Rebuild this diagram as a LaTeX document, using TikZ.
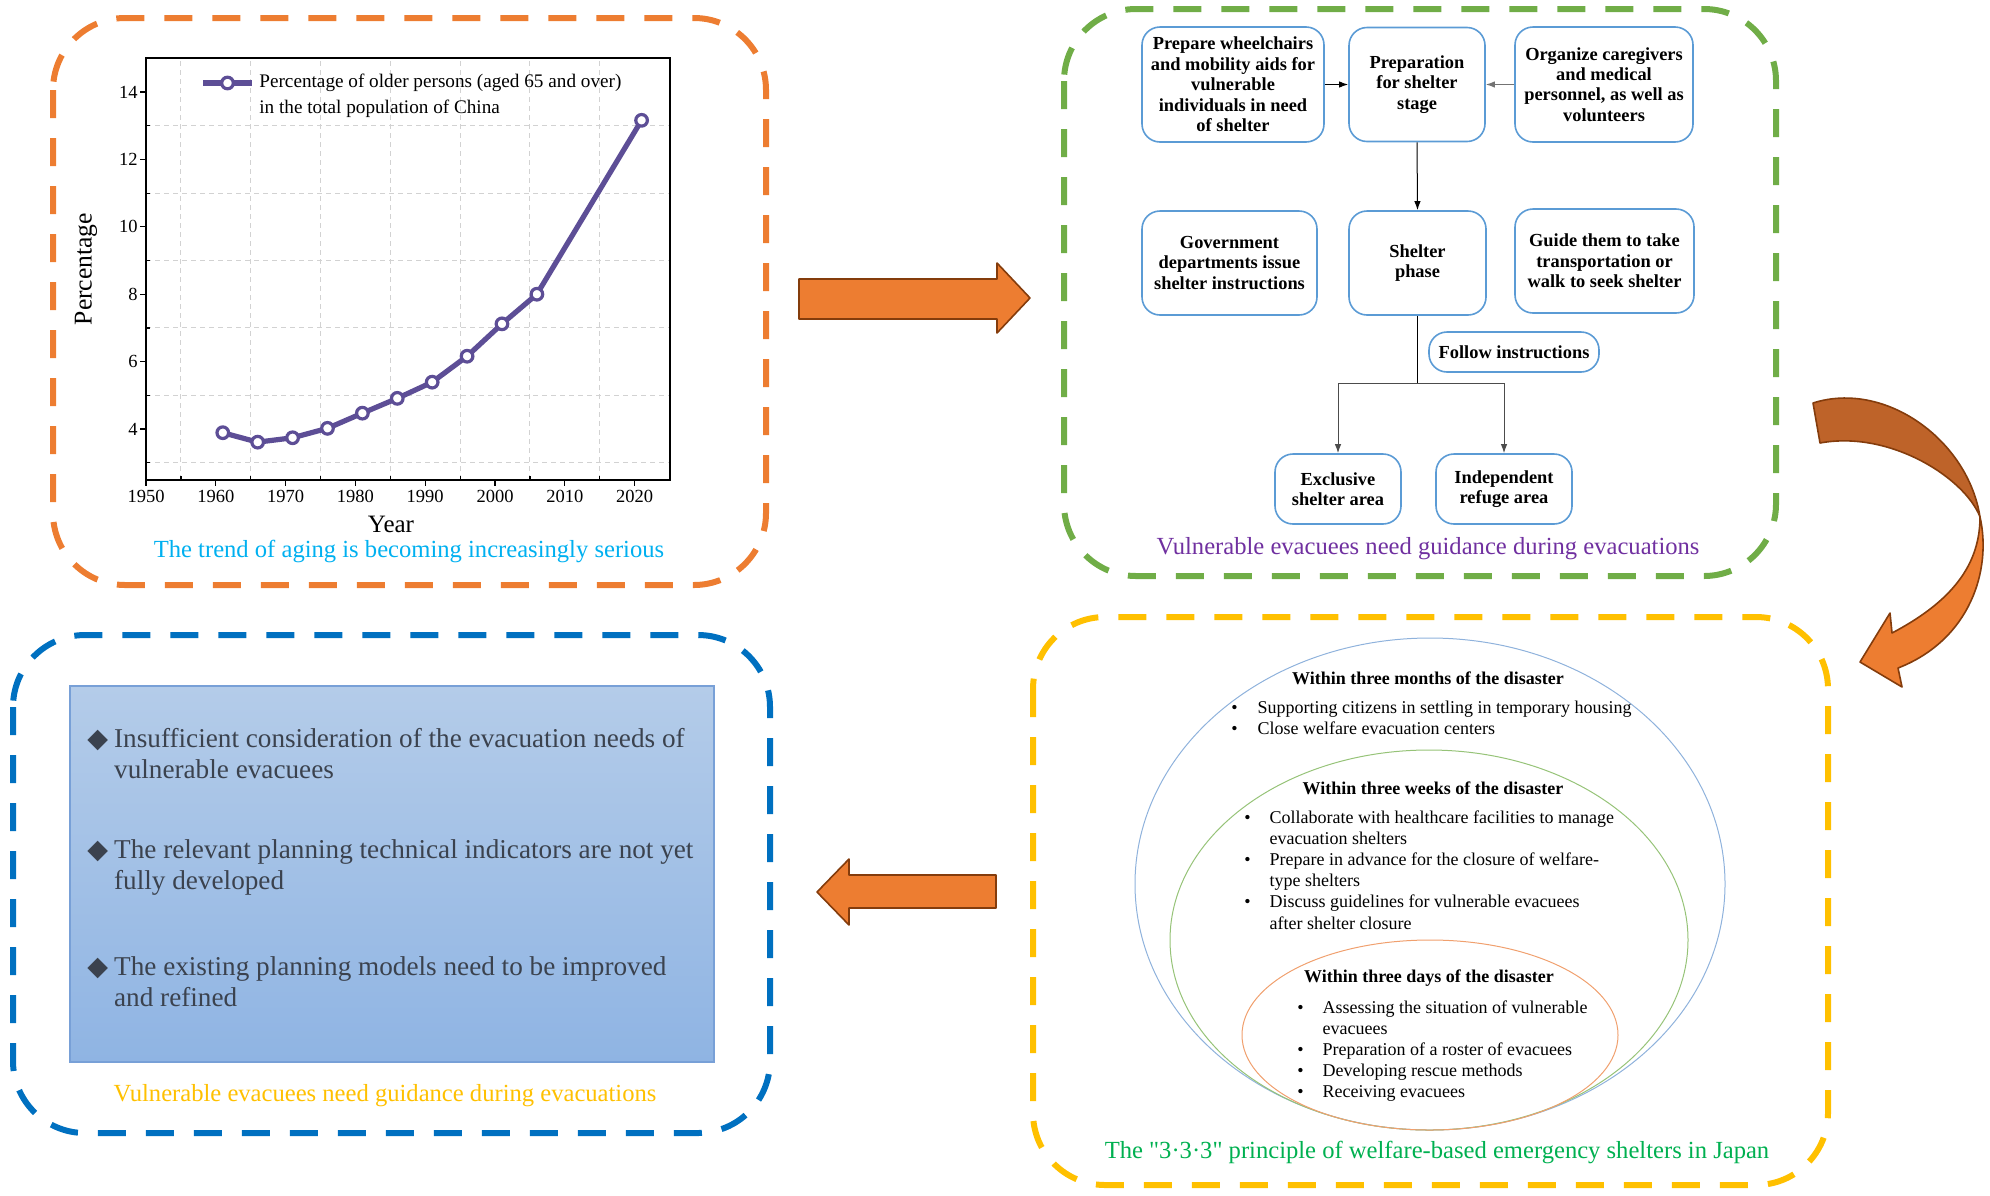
\documentclass[tikz,border=0pt]{standalone}
\usepackage{fontspec}
\setmainfont{Liberation Serif}
\newfontfamily\symfont{DejaVu Sans}
\usetikzlibrary{arrows.meta, positioning}
\definecolor{panelorange}{RGB}{237,125,49}
\definecolor{panelgreen}{RGB}{112,173,71}
\definecolor{panelyellow}{RGB}{255,192,0}
\definecolor{panelblue}{RGB}{0,112,192}
\definecolor{boxblue}{RGB}{91,155,213}
\definecolor{plotpurple}{RGB}{93,78,150}
\definecolor{titlecyan}{RGB}{0,176,240}
\definecolor{titlepurple}{RGB}{112,48,160}
\definecolor{titlegreen}{RGB}{0,176,80}
\definecolor{arrowedge}{RGB}{132,60,12}
\definecolor{arrowdark}{RGB}{190,99,41}
\definecolor{slatetext}{RGB}{59,66,78}
\definecolor{shadetop}{RGB}{180,204,233}
\definecolor{shadebottom}{RGB}{143,180,227}
\definecolor{shadeedge}{RGB}{120,160,215}
\definecolor{ringblue}{RGB}{143,178,220}
\definecolor{ringgreen}{RGB}{150,195,120}
\definecolor{ringorange}{RGB}{240,160,110}

\tikzset{
  panel/.style={line width=3pt, dash pattern=on 14pt off 10pt, rounded corners=36pt},
  flowbox/.style={draw=boxblue, line width=0.8pt, rounded corners=9pt, align=center, inner sep=2pt, font=\bfseries\fontsize{9.2}{10.2}\selectfont},
  flowline/.style={line width=0.5pt, -{Latex[length=4.5pt,width=3.2pt]}},
  paneltitle/.style={font=\fontsize{12.3}{14}\selectfont},
  gridline/.style={gray!35, dash pattern=on 2.5pt off 2pt, line width=0.5pt},
  blockarrow/.style={fill=panelorange, draw=arrowedge, line width=0.8pt, line join=round},
  ring/.style={line width=0.5pt},
  ringhead/.style={font=\bfseries\fontsize{9}{10.6}\selectfont},
  ringtext/.style={anchor=base west, inner sep=0pt, font=\fontsize{9}{10.6}\selectfont},
  listitem/.style={anchor=base west, inner sep=0pt, text=slatetext, font=\fontsize{13.6}{15.5}\selectfont},
  plotdot/.style={fill=white, draw=plotpurple, line width=1.6pt},
}

\begin{document}
\begin{tikzpicture}[x=0.5pt, y=-0.5pt]
\useasboundingbox (0,0) rectangle (1990,1195);

% Panel frames
\draw[panel, draw=panelorange] (53,18) rectangle (766,585);
\draw[panel, draw=panelgreen] (1064,9) rectangle (1776,576);
\draw[panel, draw=panelyellow] (1033,617) rectangle (1828,1185);
\draw[panel, draw=panelblue] (13,635) rectangle (770,1133);

% Chart: share of older persons
\begin{scope}[shift={(146,563.8)}, x=3.49pt, y=16.85pt]
\foreach \yr in {5,15,...,65} \draw[gridline] (\yr,2.5) -- (\yr,15);
\foreach \v in {3,5,...,13} \draw[gridline] (0,\v) -- (75,\v);
\foreach \yr in {0,10,...,70} {
  \draw[line width=0.6pt] (\yr,2.5) -- ++(0pt,-3pt);
  \pgfmathtruncatemacro{\yearlabel}{1950+\yr}
  \node[font=\fontsize{9.25}{10}\selectfont, inner sep=0pt] (xl\yr) at (\yr,2.0) {\yearlabel};
}
\foreach \yr in {5,15,...,65} \draw[line width=0.6pt] (\yr,2.5) -- ++(0pt,2pt);
\foreach \v in {4,6,...,14} {
  \draw[line width=0.6pt] (0,\v) -- ++(-3pt,0pt);
  \node[font=\fontsize{9.25}{10}\selectfont, inner sep=0pt, anchor=east] (yl\v) at ([xshift=-4pt]0,\v) {\v};
}
\foreach \v in {3,5,...,13} \draw[line width=0.6pt] (0,\v) -- ++(2pt,0pt);
\draw[line width=1pt] (0,2.5) rectangle (75,15);

% Data line
\draw[plotpurple, line width=2.6pt, line join=round] plot coordinates {(11,3.89) (16,3.61) (21,3.74) (26,4.02) (31,4.47) (36,4.91) (41,5.39) (46,6.16) (51,7.12) (56,8.0) (71,13.16)};
\foreach \yr/\v in {11/3.89, 16/3.61, 21/3.74, 26/4.02, 31/4.47, 36/4.91, 41/5.39, 46/6.16, 51/7.12, 56/8.0, 71/13.16}
  \filldraw[plotdot] (\yr,\v) circle (2.9pt);
\end{scope}

% Legend and axis titles
\draw[plotpurple, line width=2.8pt] (203,83) -- (252,83);
\filldraw[plotdot] (227.5,83) circle (2.9pt);
\node[anchor=west, align=left, inner sep=0pt, font=\fontsize{9.6}{13}\selectfont] (legendtext) at (259,96) {Percentage of older persons (aged 65 and over)\\in the total population of China};
\node[rotate=90, font=\fontsize{12.8}{14}\selectfont] (ylabel) at (86,269) {Percentage};
\node[font=\fontsize{12.5}{14}\selectfont] (xlabel) at (391,524) {Year};
\node[paneltitle, text=titlecyan] (agingtitle) at (409,551) {The trend of aging is becoming increasingly serious};

% Flow chart of shelter guidance
\node[flowbox, minimum width=91pt, minimum height=57.5pt] (prepwheel) at (1233,84.5) {Prepare wheelchairs\\and mobility aids for\\vulnerable\\individuals in need\\of shelter};
\node[flowbox, minimum width=68pt, minimum height=57pt] (prepstage) at (1417,84.5) {Preparation\\for shelter\\stage};
\node[flowbox, minimum width=89pt, minimum height=57.5pt] (organize) at (1604,84.5) {Organize caregivers\\and medical\\personnel, as well as\\volunteers};
\node[flowbox, minimum width=87.5pt, minimum height=52pt] (govdept) at (1229.5,263) {Government\\departments issue\\shelter instructions};
\node[flowbox, minimum width=68.5pt, minimum height=52pt] (shelterphase) at (1417.5,263) {Shelter\\phase};
\node[flowbox, minimum width=89.5pt, minimum height=52pt] (guide) at (1604.5,261) {Guide them to take\\transportation or\\walk to seek shelter};
\node[flowbox, minimum width=85pt, minimum height=20pt] (follow) at (1514,352) {Follow instructions};
\node[flowbox, minimum width=63pt, minimum height=35pt] (exclusive) at (1338,489) {Exclusive\\shelter area};
\node[flowbox, minimum width=68pt, minimum height=35pt] (independent) at (1504,489) {Independent\\refuge area};

\draw[flowline] (prepwheel.east) -- (prepstage.west);
\draw[flowline, draw=black!55] (organize.west) -- (prepstage.east);
\draw[flowline] (prepstage.south) -- (shelterphase.north);
\coordinate (fork) at (1417.5,383);
\draw[line width=0.5pt] (shelterphase.south) -- (fork);
\draw[flowline, draw=black!70] (fork) -| (exclusive.north);
\draw[flowline, draw=black!70] (fork) -| (independent.north);
\node[paneltitle, text=titlepurple] (guidetitle) at (1428,549) {Vulnerable evacuees need guidance during evacuations};

% 3-3-3 principle
\draw[ring, draw=ringblue] (1430,884) ellipse [x radius=147.5pt, y radius=123pt];
\draw[ring, draw=ringgreen] (1429,940) ellipse [x radius=129.5pt, y radius=95pt];
\draw[ring, draw=ringorange] (1430,1035) ellipse [x radius=94pt, y radius=47.5pt];

\node[ringhead] (monthshead) at (1428,678) {Within three months of the disaster};
\node[ringtext] (monthslist) at (1231,713) {\begin{tabular}[t]{@{}l@{\hspace{10pt}}l@{}}
\textbullet & Supporting citizens in settling in temporary housing\\
\textbullet & Close welfare evacuation centers
\end{tabular}};
\node[ringhead] (weekshead) at (1433,788) {Within three weeks of the disaster};
\node[ringtext] (weekslist) at (1244,823) {\begin{tabular}[t]{@{}l@{\hspace{9.5pt}}l@{}}
\textbullet & Collaborate with healthcare facilities to manage\\
 & evacuation shelters\\
\textbullet & Prepare in advance for the closure of welfare-\\
 & type shelters\\
\textbullet & Discuss guidelines for vulnerable evacuees\\
 & after shelter closure
\end{tabular}};
\node[ringhead] (dayshead) at (1429,978) {Within three days of the disaster};
\node[ringtext] (dayslist) at (1297,1013) {\begin{tabular}[t]{@{}l@{\hspace{9.5pt}}l@{}}
\textbullet & Assessing the situation of vulnerable\\
 & evacuees\\
\textbullet & Preparation of a roster of evacuees\\
\textbullet & Developing rescue methods\\
\textbullet & Receiving evacuees
\end{tabular}};
\node[paneltitle, text=titlegreen] (principletitle) at (1437,1152) {The \textquotedbl 3·3·3\textquotedbl{} principle of welfare-based emergency shelters in Japan};

% Problems box
\shade[top color=shadetop, bottom color=shadebottom] (70,686) rectangle (714,1062);
\draw[shadeedge, line width=0.6pt] (70,686) rectangle (714,1062);
\node[listitem] (issueone) at (87,747) {\begin{tabular}[t]{@{}l@{\hspace{3pt}}l@{}}
{\symfont\fontsize{13.5}{10}\selectfont ◆} & Insufficient consideration of the evacuation needs of\\
 & vulnerable evacuees
\end{tabular}};
\node[listitem] (issuetwo) at (87,858) {\begin{tabular}[t]{@{}l@{\hspace{3pt}}l@{}}
{\symfont\fontsize{13.5}{10}\selectfont ◆} & The relevant planning technical indicators are not yet\\
 & fully developed
\end{tabular}};
\node[listitem] (issuethree) at (87,975) {\begin{tabular}[t]{@{}l@{\hspace{3pt}}l@{}}
{\symfont\fontsize{13.5}{10}\selectfont ◆} & The existing planning models need to be improved\\
 & and refined
\end{tabular}};
\node[paneltitle, text=panelyellow] (problemtitle) at (385,1096) {Vulnerable evacuees need guidance during evacuations};

% Block arrows between panels
\draw[blockarrow] (799,279) -- (997,279) -- (997,263) -- (1030,298) -- (997,333) -- (997,319) -- (799,319) -- cycle;
\draw[blockarrow] (996,875) -- (849,875) -- (849,859) -- (817,892) -- (849,925) -- (849,908) -- (996,908) -- cycle;
\draw[blockarrow, fill=arrowdark] (1813,403) .. controls (1885,380) and (1968,440) .. (1980,517) .. controls (1965,478) and (1890,430) .. (1820,443) -- cycle;
\draw[blockarrow] (1980,517) .. controls (1992,570) and (1970,640) .. (1898,668) -- (1902,687) -- (1860,662) -- (1890,613) -- (1892,633) .. controls (1945,605) and (1980,570) .. (1980,517) -- cycle;
\end{tikzpicture}
\end{document}
